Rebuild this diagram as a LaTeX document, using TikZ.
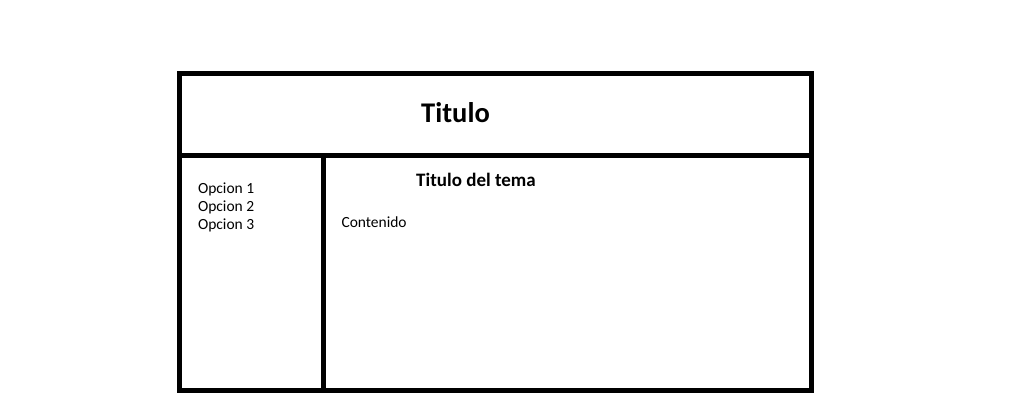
\documentclass[tikz,border=0pt]{standalone}
\usepackage{fontspec}
\setmainfont{Carlito}
\begin{document}
\begin{tikzpicture}[x=1pt,y=-1pt,
  frame/.style={line width=5pt,draw=black},
  lbl/.style={inner sep=0pt,outer sep=0pt,font=\fontsize{15.5}{18}\selectfont}]
\useasboundingbox (0,0) rectangle (1028,401);
\coordinate (tl) at (179.5,74);
\coordinate (br) at (811.5,390);
\coordinate (hl) at (179.5,156);
\coordinate (hr) at (811.5,156);
\coordinate (vt) at (323.5,156);
\coordinate (vb) at (323.5,390);
\draw[frame] (tl) rectangle (br);
\draw[frame] (hl) -- (hr);
\draw[frame] (vt) -- (vb);
\node[inner sep=0pt,anchor=base,font=\bfseries\fontsize{28.5}{34}\selectfont] (titulo) at (455.5,123) {Titulo};
\node[inner sep=0pt,anchor=base,font=\bfseries\fontsize{19}{23}\selectfont] (tema) at (476,186) {Titulo del tema};
\node[lbl,anchor=base west] (op1) at (198,193.3) {Opcion 1};
\node[lbl,anchor=base west] (op2) at (198,211.3) {Opcion 2};
\node[lbl,anchor=base west] (op3) at (198,229.3) {Opcion 3};
\node[lbl,anchor=base west] (cont) at (341.5,227.3) {Contenido};
\end{tikzpicture}
\end{document}
